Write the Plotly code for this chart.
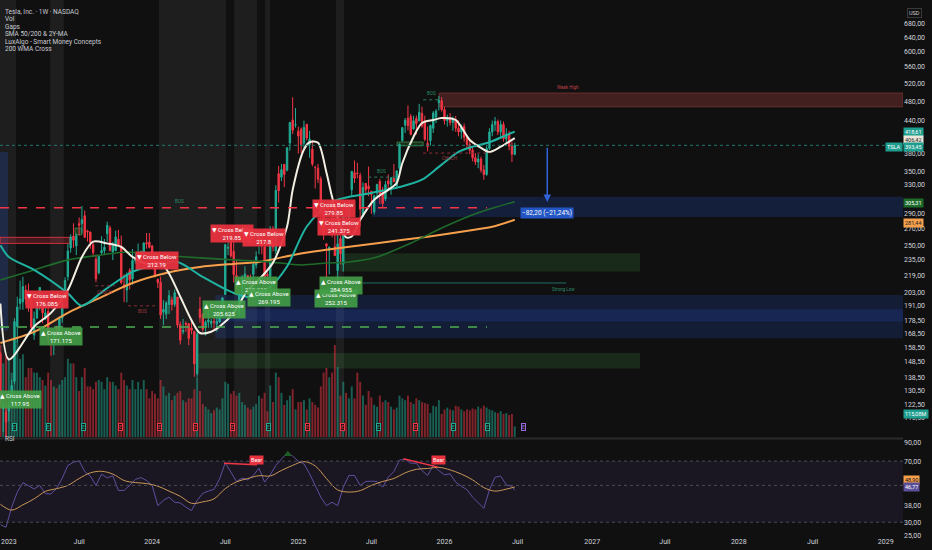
import numpy as np
import pandas as pd
import plotly.graph_objects as go

# weekly TSLA candles, first bar = week of 2022-12-19, last = week of 2026-06-22
opens = [154.0, 120.0, 118.5, 119.0, 125.7, 135.9, 173.9, 193.0, 194.4, 205.0,
         202.0, 198.5, 167.5, 180.8, 194.4, 199.9, 179.9, 186.3, 164.7, 163.2,
         173.7, 167.7, 180.7, 200.1, 217.8, 247.9, 261.5, 250.1, 276.5, 276.5,
         286.6, 267.5, 266.3, 251.5, 235.7, 221.6, 242.6, 245.0, 264.3, 271.2,
         243.4, 244.8, 257.8, 250.0, 210.0, 205.0, 224.0, 215.6, 234.0, 236.9,
         235.8, 242.7, 253.8, 254.5, 250.1, 236.1, 215.1, 212.3, 185.6, 184.0,
         192.1, 196.1, 192.3, 198.7, 175.5, 170.0, 176.5, 176.2, 172.9, 170.2,
         140.6, 188.4, 183.8, 174.5, 177.6, 176.4, 178.1, 176.1, 177.6, 185.0,
         201.0, 247.7, 255.0, 244.2, 218.9, 185.2, 197.0, 217.1, 218.8, 215.3,
         220.1, 229.5, 254.1, 262.7, 249.0, 220.1, 218.3, 270.0, 244.6, 346.3,
         340.7, 361.0, 351.8, 397.6, 441.1, 431.0, 419.4, 423.2, 397.2, 432.6,
         394.8, 386.7, 356.2, 355.0, 338.1, 300.3, 252.4, 245.1, 283.6, 249.3,
         223.8, 258.4, 230.3, 289.0, 284.3, 322.0, 347.9, 347.4, 343.5, 286.0,
         331.3, 327.5, 319.9, 291.4, 317.7, 334.4, 318.5, 309.0, 335.0, 329.6,
         338.9, 328.2, 354.6, 402.0, 431.0, 444.4, 447.8, 423.5, 443.9, 439.0,
         454.5, 439.6, 397.1, 402.0, 425.0, 447.0, 477.0, 481.0, 462.0, 440.0,
         446.0, 436.0, 442.0, 425.0, 418.0, 428.0, 408.0, 395.0, 385.0, 372.0,
         365.0, 370.0, 352.0, 345.0, 388.0, 418.0, 432.0, 438.0, 418.0, 432.0,
         405.0, 414.0, 392.0, 378.0]
highs = [155.3, 124.5, 125.9, 124.1, 137.0, 180.7, 199.0, 214.0, 217.7, 209.7,
         211.2, 198.6, 186.2, 199.3, 207.8, 202.7, 191.8, 189.7, 165.7, 170.8,
         174.6, 182.0, 193.9, 217.3, 252.4, 263.6, 277.0, 264.5, 284.3, 299.3,
         293.3, 269.1, 266.5, 253.7, 240.7, 239.2, 261.2, 258.0, 279.0, 273.9,
         254.8, 268.0, 268.9, 262.0, 220.1, 222.0, 226.3, 246.7, 243.6, 252.8,
         245.0, 254.0, 265.1, 265.1, 251.3, 238.9, 216.0, 217.8, 196.0, 195.0,
         205.0, 199.0, 205.6, 198.7, 178.0, 180.0, 178.0, 176.8, 179.0, 170.7,
         171.0, 198.9, 184.9, 179.0, 186.9, 180.0, 182.6, 185.0, 188.8, 198.7,
         252.4, 271.0, 266.0, 255.8, 234.5, 203.9, 219.5, 228.2, 219.1, 219.9,
         232.0, 244.0, 264.9, 264.0, 251.0, 222.0, 273.5, 273.5, 328.7, 358.6,
         361.9, 362.0, 389.5, 436.3, 488.5, 465.3, 428.0, 426.4, 439.7, 433.2,
         420.0, 403.0, 359.0, 362.0, 342.0, 303.0, 253.4, 249.5, 291.9, 290.9,
         274.7, 261.8, 286.9, 294.9, 307.0, 350.0, 367.7, 363.8, 348.0, 333.0,
         332.1, 357.5, 320.0, 315.0, 330.9, 338.0, 326.0, 335.2, 345.0, 340.8,
         362.0, 351.0, 396.7, 426.0, 445.0, 470.8, 453.0, 449.8, 450.0, 474.1,
         468.4, 449.7, 428.0, 432.0, 458.9, 463.0, 491.5, 489.0, 468.0, 452.0,
         455.0, 448.0, 449.0, 440.0, 432.0, 434.0, 412.0, 402.0, 392.0, 380.0,
         378.0, 374.0, 360.0, 392.0, 425.0, 440.0, 447.0, 442.0, 440.0, 438.0,
         425.0, 420.0, 400.0, 398.0]
lows = [121.0, 108.2, 101.8, 113.5, 124.3, 134.3, 162.0, 187.6, 187.6, 191.8,
        186.0, 168.4, 163.9, 180.0, 187.2, 176.6, 179.0, 160.2, 152.4, 153.0,
        164.3, 164.0, 177.0, 196.5, 214.0, 242.7, 248.0, 240.0, 262.0, 265.0,
        259.3, 255.0, 247.0, 238.0, 212.4, 220.0, 240.0, 240.0, 255.0, 244.0,
        234.6, 244.5, 250.0, 210.4, 194.1, 194.0, 205.7, 210.0, 231.0, 231.0,
        231.0, 235.0, 247.0, 247.4, 230.0, 217.0, 207.0, 180.1, 175.0, 180.0,
        184.0, 187.0, 190.0, 173.0, 160.5, 168.0, 170.0, 160.0, 168.0, 138.8,
        138.8, 177.0, 170.0, 167.0, 173.0, 173.0, 171.0, 170.0, 177.0, 182.0,
        201.0, 240.0, 237.0, 212.1, 205.0, 182.0, 195.0, 207.0, 201.0, 209.0,
        214.0, 226.0, 241.0, 240.8, 210.0, 214.0, 212.0, 244.0, 241.0, 304.0,
        335.0, 326.0, 350.0, 384.0, 414.0, 426.0, 379.0, 380.0, 388.0, 402.0,
        372.0, 358.0, 324.0, 332.0, 273.0, 257.0, 217.0, 220.0, 260.0, 239.0,
        214.3, 230.0, 222.8, 270.0, 271.0, 313.0, 332.0, 339.0, 273.2, 285.0,
        316.0, 313.0, 289.0, 288.0, 309.0, 302.0, 297.8, 306.0, 322.0, 315.0,
        333.0, 325.0, 348.0, 400.0, 416.0, 421.0, 411.5, 422.0, 413.0, 439.0,
        426.0, 401.0, 382.8, 393.0, 416.0, 435.0, 460.0, 458.0, 432.0, 428.0,
        430.0, 420.0, 418.0, 410.0, 405.0, 400.0, 388.0, 378.0, 366.0, 360.0,
        355.0, 348.0, 337.0, 343.0, 385.0, 410.0, 420.0, 412.0, 408.0, 400.0,
        398.0, 385.0, 365.0, 376.0]
closes = [123.2, 123.2, 113.1, 122.4, 133.4, 177.9, 190.0, 196.9, 208.3, 196.9,
          197.8, 173.4, 180.1, 190.4, 207.5, 185.0, 185.0, 165.1, 164.3, 170.1,
          168.0, 180.1, 193.2, 214.0, 244.4, 260.5, 256.6, 261.8, 274.4, 281.4,
          260.0, 266.4, 253.9, 242.7, 215.5, 238.6, 245.0, 248.5, 274.4, 244.9,
          250.2, 260.5, 251.1, 212.0, 207.3, 220.0, 214.7, 234.3, 235.5, 238.8,
          243.8, 253.5, 252.5, 248.5, 237.5, 218.9, 212.2, 183.3, 187.9, 193.6,
          200.0, 192.0, 202.6, 175.3, 163.6, 170.8, 175.8, 164.9, 171.1, 147.1,
          168.3, 181.2, 171.9, 177.5, 179.2, 178.1, 177.5, 178.0, 183.0, 197.9,
          251.5, 248.2, 239.2, 219.8, 207.7, 200.0, 216.1, 220.3, 214.1, 210.7,
          230.3, 238.3, 260.5, 250.1, 217.8, 218.9, 269.2, 249.0, 321.2, 320.7,
          352.6, 345.2, 389.2, 436.2, 421.1, 431.7, 410.4, 394.7, 426.5, 406.6,
          404.6, 361.6, 355.8, 337.8, 293.0, 262.7, 250.0, 248.7, 263.6, 239.4,
          252.3, 241.4, 285.0, 287.2, 298.3, 350.0, 339.3, 346.5, 295.1, 325.3,
          322.2, 323.6, 315.4, 313.5, 329.7, 316.1, 302.6, 329.7, 330.6, 340.0,
          333.9, 350.8, 395.9, 426.1, 440.4, 429.8, 413.5, 439.3, 433.7, 456.6,
          429.5, 404.4, 391.1, 430.2, 455.0, 459.0, 481.2, 462.0, 440.0, 446.0,
          436.0, 442.0, 425.0, 418.0, 428.0, 408.0, 395.0, 385.0, 372.0, 365.0,
          370.0, 352.0, 345.0, 388.0, 418.0, 432.0, 438.0, 418.0, 432.0, 405.0,
          414.0, 392.0, 378.0, 393.45]
volumes = [1000, 800, 900, 850, 700, 1000, 1050, 850, 900, 650,
           750, 750, 700, 700, 650, 620, 560, 700, 620, 550,
           530, 570, 620, 650, 850, 800, 800, 650, 500, 650,
           750, 550, 550, 520, 600, 620, 600, 520, 650, 600,
           600, 560, 520, 700, 620, 560, 520, 620, 520, 600,
           520, 620, 520, 420, 500, 470, 420, 620, 550, 450,
           480, 400, 450, 480, 500, 400, 380, 420, 420, 520,
           650, 500, 360, 330, 300, 260, 290, 320, 300, 420,
           600, 580, 470, 500, 450, 480, 380, 350, 320, 300,
           330, 360, 450, 420, 480, 280, 560, 380, 700, 650,
           480, 350, 400, 450, 520, 300, 380, 380, 400, 300,
           420, 380, 350, 320, 550, 700, 750, 650, 700, 1000,
           760, 450, 600, 480, 420, 550, 420, 700, 600, 450,
           350, 500, 430, 350, 330, 450, 380, 400, 380, 330,
           300, 320, 450, 420, 400, 450, 380, 360, 420, 400,
           380, 370, 360, 260, 340, 330, 400, 250, 300, 320,
           300, 290, 340, 330, 300, 280, 300, 290, 310, 300,
           330, 310, 340, 320, 300, 290, 270, 260, 280, 250,
           260, 240, 250, 115]

# moving averages, week index counted from 2023-01-02
sma_fast_wk = [-2, 1, 10, 16, 22, 27, 31, 36, 41, 45, 51, 55, 58, 62, 66, 69, 73, 76, 81, 86,
               90, 95, 100, 102, 106, 108, 111, 114, 116, 119, 121, 123, 126, 131, 136, 139,
               141, 145, 148, 152, 155, 160, 165, 169, 172, 176, 181]
sma_fast = [193, 150, 174, 185, 205, 238, 255, 253, 249, 238, 230, 232, 221, 199, 179, 169, 170,
            174, 185, 205, 215, 232, 273, 322, 386, 399, 398, 348, 312, 273, 260, 261, 281, 308,
            322, 332, 363, 409, 435, 441, 445, 441, 403, 389, 382, 391, 406.4]
sma_slow_wk = [-2, 1, 10, 22, 27, 35, 45, 54, 61, 70, 81, 88, 94, 100, 107, 116, 130, 140, 148,
               154, 161, 166, 172, 178, 181]
sma_slow = [251, 238, 224.5, 202, 191, 205, 222.6, 229.6, 232.7, 217.5, 202.4, 198.7, 208, 228,
            273, 305, 317.5, 326, 337, 357, 382, 391, 399, 412, 418.6]
ma_2y_wk = [-2, 10, 22, 34, 43, 54, 69, 81, 93, 105, 114, 122, 132, 144, 156, 168, 181]
ma_2y = [214.6, 224.5, 234.9, 240.2, 243.4, 240.2, 237, 234.9, 233, 229.6, 231.6, 232.7, 237.9,
         253.2, 272.6, 290.3, 305.3]
wma200_wk = [-2, 10, 22, 34, 45, 57, 69, 81, 90, 104, 114, 132, 150, 162, 173, 181]
wma200 = [161.6, 169.8, 185, 198.7, 211.7, 221.4, 227.5, 230.7, 232.7, 241.3, 245.8, 253.2,
          260.8, 266.7, 272.6, 281.4]

# RSI every second week from index -2, plus the last bar
rsi = [29, 28, 37, 45.5, 52, 50, 47.6, 50, 44.6, 44.4, 48, 55.3, 65.9, 69, 70.3, 60.6, 56.9, 50,
       58.4, 55.5, 57.1, 46.6, 46.6, 50, 54.3, 55.7, 53.5, 50, 37.8, 40.6, 42.5, 39.6, 39.2, 37,
       35.3, 40.6, 44.8, 46.2, 47.4, 54.8, 68.4, 60.1, 52.8, 55.3, 54, 57.4, 63.5, 52.3, 57.9,
       65.9, 72.3, 78.6, 75, 70, 67.4, 58.7, 50, 42.5, 37.8, 39.6, 37.8, 48.8, 57.4, 57.4, 50,
       52.8, 53, 52.8, 48.8, 56, 60.6, 71, 71.7, 68, 68, 61.4, 57.4, 65.9, 61.4, 57.9, 58.7,
       52.3, 49.4, 47.1, 42.5, 39.2, 36.4, 47.1, 56, 56.9, 50.4, 49.4, 46.8]
rsi_ma_wk = [-2, 2, 6, 10, 14, 18, 22, 26, 30, 34, 38, 42, 46, 50, 54, 58, 62, 66, 70, 74, 78, 82,
             86, 90, 94, 98, 102, 106, 110, 114, 118, 122, 126, 130, 134, 138, 142, 146, 150, 154,
             158, 162, 166, 170, 174, 178, 181]
rsi_ma = [38.5, 35.5, 38.2, 41.5, 46, 47.8, 50, 55, 59.5, 60.8, 58.5, 53.5, 52, 51.3, 49.5, 46.2,
          43, 39, 39.8, 41.5, 47.8, 52.5, 55, 57.2, 57, 61.5, 66, 69.5, 65.5, 55, 47, 45.6, 46.5,
          50, 52.8, 55, 59.5, 62.5, 63.2, 64.2, 62, 58.5, 54, 48.5, 46.2, 47.5, 48.9]

x_tick_dates = ['2023-01-09', '2023-07-03', '2024-01-01', '2024-07-01', '2024-12-30', '2025-06-30',
                '2025-12-29', '2026-06-29', '2027-01-01', '2027-07-01', '2028-01-01', '2028-07-03',
                '2029-01-01']
x_tick_text = ['2023', 'Juil', '2024', 'Juil', '2025', 'Juil', '2026', 'Juil', '2027', 'Juil',
               '2028', 'Juil', '2029']
price_ticks = [680, 640, 600, 560, 520, 480, 440, 380, 350, 330, 290, 270, 250, 235, 219, 203,
               191, 178.5, 168.5, 158.5, 148.5, 138.5, 130.5, 122.5, 115.5]
rsi_ticks = [90, 70, 38, 30, 25]

BG = '#101010'
UP = '#22ab94'
DOWN = '#f23645'
X0, X1 = '2022-12-18', '2029-02-13'
MAIN_BOT = 1 - 437 / 536
RSI_TOP = 1 - 440 / 536
BASE = pd.Timestamp('2023-01-02')


def wk(i):
    return BASE + pd.Timedelta(weeks=i)


def comma(v):
    return f'{v:.2f}'.replace('.', ',')


dates = pd.date_range('2022-12-19', periods=len(closes), freq='W-MON')
vol_colors = ['rgba(34,171,148,0.5)' if c >= o else 'rgba(242,54,69,0.5)'
              for o, c in zip(opens, closes)]

fig = go.Figure()

fig.add_trace(go.Bar(x=dates, y=volumes, marker_color=vol_colors, marker_line_width=0,
                     width=7 * 86400000 * 0.7, xaxis='x', yaxis='y'))

fig.add_trace(go.Candlestick(
    x=dates, open=opens, high=highs, low=lows, close=closes, xaxis='x', yaxis='y3',
    increasing=dict(line=dict(color=UP, width=1), fillcolor=UP),
    decreasing=dict(line=dict(color=DOWN, width=1), fillcolor=DOWN),
    whiskerwidth=0))

for wks, vals, color, width in [(wma200_wk, wma200, '#f6a04d', 2),
                                (ma_2y_wk, ma_2y, '#1f6b2b', 1.6),
                                (sma_slow_wk, sma_slow, '#1fb3a2', 2),
                                (sma_fast_wk, sma_fast, '#f2eee2', 2)]:
    fig.add_trace(go.Scatter(x=[wk(i) for i in wks], y=vals, mode='lines', xaxis='x', yaxis='y3',
                             line=dict(color=color, width=width, shape='spline', smoothing=0.8)))

# RSI pane
rsi_dates = [wk(i) for i in range(-2, 181, 2)] + [wk(181)]
fig.add_trace(go.Scatter(x=rsi_dates, y=rsi, mode='lines', xaxis='x2', yaxis='y2',
                         line=dict(color='#5f4fa0', width=1)))
fig.add_trace(go.Scatter(x=[wk(i) for i in rsi_ma_wk], y=rsi_ma, mode='lines', xaxis='x2',
                         yaxis='y2', line=dict(color='#c99656', width=1, shape='spline')))
fig.add_trace(go.Scatter(x=['2024-12-04'], y=[77], mode='markers', xaxis='x2', yaxis='y2',
                         marker=dict(symbol='triangle-up', size=7, color='#1d5e26')))

shapes = []
# lighter vertical session bands
for a, b in [('2022-12-18', '2023-01-27'), ('2023-04-22', '2023-05-26'),
             ('2024-01-18', '2024-07-03'), ('2024-07-23', '2024-09-18'),
             ('2024-10-08', '2024-10-21'), ('2025-04-03', '2025-04-23')]:
    shapes.append(dict(type='rect', xref='x', yref='paper', x0=a, x1=b, y0=MAIN_BOT, y1=1,
                       fillcolor='rgba(255,255,255,0.06)', line_width=0, layer='below'))


def zone(x0, x1, y0, y1, fill, line=None):
    shapes.append(dict(type='rect', xref='x', yref='y3', x0=x0, x1=x1, y0=y0, y1=y1,
                       fillcolor=fill, line=dict(width=1 if line else 0, color=line or fill),
                       layer='below'))


zone('2025-12-16', X1, 468, 498, 'rgba(150,60,60,0.38)', 'rgba(120,50,50,0.8)')
zone('2025-07-02', X1, 285, 312, 'rgba(41,98,255,0.18)')
zone('2024-06-06', X1, 165, 200.6, 'rgba(41,98,255,0.16)')
zone('2024-06-06', X1, 178, 188, 'rgba(41,98,255,0.14)')
zone(X0, '2023-01-07', 171, 382, 'rgba(41,98,255,0.18)')
zone('2025-04-13', '2027-04-30', 223, 242, 'rgba(76,175,80,0.16)')
zone('2024-04-22', '2027-04-30', 144, 154.5, 'rgba(76,175,80,0.16)')
zone(X0, '2023-06-10', 253, 260, 'rgba(242,54,69,0.22)', 'rgba(242,54,69,0.8)')
zone('2023-06-23', '2023-07-10', 263, 271, 'rgba(76,175,80,0.25)', 'rgba(76,175,80,0.6)')
zone('2025-09-02', '2025-11-06', 392.6, 399.4, 'rgba(76,175,80,0.2)', 'rgba(76,175,80,0.6)')


def hline(x0, x1, y, color, dash, width=1, yref='y3'):
    shapes.append(dict(type='line', xref='x', yref=yref, x0=x0, x1=x1, y0=y, y1=y,
                       line=dict(color=color, width=width, dash=dash)))


hline(X0, '2026-04-14', 297, '#f23645', 'dash', 1.5)
hline(X0, '2026-04-14', 173.6, '#4caf50', 'dash', 1.5)
hline('2025-04-07', '2026-10-28', 211.7, '#1f6e66', 'solid', 1)
hline(X0, X1, 393.45, '#1f7a6e', 'dot', 1)
hline('2025-06-22', '2025-08-28', 341, '#2e7d5b', 'dot')
hline('2025-11-06', '2025-12-16', 483, '#2e7d5b', 'dot')
hline('2025-11-06', '2026-04-22', 380, '#8a2e35', 'dot')
hline('2023-08-12', '2023-09-30', 209, '#8a2e35', 'dot')
hline('2023-11-02', '2024-01-13', 191, '#8a2e35', 'dot')

# RSI band and levels
shapes.append(dict(type='rect', xref='paper', yref='y2', x0=0, x1=1, y0=30, y1=70,
                   fillcolor='rgba(126,87,194,0.1)', line_width=0, layer='below'))
for lvl in [70, 50, 30]:
    shapes.append(dict(type='line', xref='paper', yref='y2', x0=0, x1=1, y0=lvl, y1=lvl,
                       line=dict(color='#4a4a55', width=1, dash='dot')))
for a, va, b, vb in [('2024-06-28', 68, '2024-09-18', 66.6), ('2025-09-18', 72.3, '2025-12-13', 64.4)]:
    shapes.append(dict(type='line', xref='x2', yref='y2', x0=a, x1=b, y0=va, y1=vb,
                       line=dict(color='#f23645', width=1.5)))
# pane separator
shapes.append(dict(type='line', xref='paper', yref='paper', x0=0, x1=1, y0=1 - 438.5 / 536,
                   y1=1 - 438.5 / 536, line=dict(color='#2a2a2a', width=2)))

ann = []
LOG = np.log10


def label(d, price, text, bg, size=6, color='white'):
    ann.append(dict(x=d, y=LOG(price), xref='x', yref='y3', text=text, showarrow=False,
                    bgcolor=bg, font=dict(size=size, color=color), borderpad=1, align='center'))


for d, p, v in [('2023-04-14', 196.2, '176.085'), ('2024-01-13', 233.8, '212.19'),
                ('2024-07-18', 265.1, '219.85'), ('2024-10-06', 259.6, '217.8'),
                ('2025-03-29', 295.8, '279.85'), ('2025-04-11', 272.6, '241.375')]:
    label(d, p, '▼ Cross Below<br>' + v, 'rgba(232,50,62,0.95)')
for d, p, v in [('2023-02-06', 125, '117.95'), ('2023-05-19', 166, '171.175'),
                ('2024-06-28', 187.5, '205.625'), ('2024-09-16', 209, '258.255'),
                ('2024-10-18', 198.7, '269.195'), ('2025-04-03', 197, '252.315'),
                ('2025-04-16', 209, '284.955')]:
    label(d, p, '▲ Cross Above<br>' + v, 'rgba(67,160,71,0.9)')


def tiny(d, price, text, color):
    ann.append(dict(x=d, y=LOG(price), xref='x', yref='y3', text=text, showarrow=False,
                    font=dict(size=4.5, color=color)))


tiny('2025-07-25', 350, 'BOS', '#2e8b6a')
tiny('2025-11-26', 496, 'BOS', '#2e8b6a')
tiny('2026-01-10', 371, 'CHoCH', '#a33a42')
tiny('2024-03-10', 305, 'BOS', '#2e8b6a')
tiny('2023-09-05', 203, 'CHoCH', '#a33a42')
tiny('2023-12-08', 186, 'BOS', '#a33a42')
tiny('2026-11-02', 510, 'Weak High', '#c0404a')
tiny('2026-10-21', 206, 'Strong Low', '#2e8b6a')

# projection arrow
ann.append(dict(x='2026-09-11', y=LOG(305), ax='2026-09-11', ay=LOG(392), xref='x', yref='y3',
                axref='x', ayref='y3', text='', showarrow=True, arrowhead=2, arrowsize=1,
                arrowwidth=1.5, arrowcolor='#2f63d8'))
label('2026-09-11', 290, '−82,20 (−21,24%)', '#2356c4', size=6.5)

# earnings markers
for d, c in [('2023-01-24', UP), ('2023-04-17', UP), ('2023-07-15', UP), ('2023-10-15', DOWN),
             ('2024-01-18', DOWN), ('2024-04-19', DOWN), ('2024-07-18', DOWN), ('2024-10-16', UP),
             ('2025-01-23', DOWN), ('2025-04-18', DOWN), ('2025-07-17', UP), ('2025-10-17', DOWN),
             ('2026-01-20', UP), ('2026-04-14', UP), ('2026-07-13', '#9c6ade')]:
    ann.append(dict(x=d, y=1 - 431 / 536, xref='x', yref='paper', text='E', showarrow=False,
                    font=dict(size=5, color=c), bgcolor='#141414', bordercolor=c,
                    borderwidth=1, borderpad=0))

# legend text
for k, t in enumerate(['Tesla, Inc. · 1W · NASDAQ', 'Vol', 'Gaps', 'SMA 50/200 & 2Y-MA',
                       'LuxAlgo - Smart Money Concepts', '200 WMA Cross']):
    ann.append(dict(x=0.003, y=1 - (6 + 7.4 * k) / 536, xref='paper', yref='paper', text=t,
                    showarrow=False, xanchor='left', font=dict(size=6.5, color='#c9cbd2')))
ann.append(dict(x=0.003, y=1 - 445 / 536, xref='paper', yref='paper', text='RSI',
                showarrow=False, xanchor='left', font=dict(size=6.5, color='#c9cbd2')))
ann.append(dict(x=1.004, y=1 - 8 / 536, xref='paper', yref='paper', text='USD', showarrow=False,
                xanchor='left', font=dict(size=5.5, color='#c9cbd2'), bordercolor='#3a3a3a',
                borderwidth=1, borderpad=1))

# price-scale value tags
for price, text, bg, fg in [(417, '418,61', '#1e9e8e', 'white'), (403, '406,42', '#e9e6da', '#222'),
                            (390, '393,45', '#1e9e8e', 'white'), (303.7, '305,31', '#1d6b2b', 'white'),
                            (277.6, '281,44', '#f6a04d', '#222'), (117.1, '115,08M', '#1e9e8e', 'white')]:
    ann.append(dict(x=1, y=LOG(price), xref='paper', yref='y3', text=text, showarrow=False,
                    xanchor='left', bgcolor=bg, font=dict(size=5.5, color=fg), borderpad=1))
ann.append(dict(x=1, y=LOG(390), xref='paper', yref='y3', text='TSLA', showarrow=False,
                xanchor='right', bgcolor='#1e9e8e', font=dict(size=5.5, color='white'), borderpad=1))
for val, text, bg in [(53.9, '48,90', '#f6a04d'), (49.0, '46,77', '#5b4f99')]:
    ann.append(dict(x=1, y=LOG(val), xref='paper', yref='y2', text=text, showarrow=False,
                    xanchor='left', bgcolor=bg, font=dict(size=5.5, color='#111' if bg == '#f6a04d' else 'white'),
                    borderpad=1))
for d, v in [('2024-09-18', 70.7), ('2025-12-13', 70.7)]:
    ann.append(dict(x=d, y=LOG(v), xref='x2', yref='y2', text='Bear', showarrow=False,
                    bgcolor='#e8323e', font=dict(size=5.5, color='white'), borderpad=1))

axis_font = dict(size=7, color='#d1d4dc')
fig.update_layout(
    width=932, height=550, margin=dict(l=0, r=29, t=0, b=14),
    paper_bgcolor=BG, plot_bgcolor=BG, showlegend=False,
    font=dict(family='Roboto, DejaVu Sans', size=7, color='#d1d4dc'),
    xaxis=dict(domain=[0, 1], anchor='y', type='date', range=[X0, X1], showticklabels=False,
               showgrid=False, zeroline=False, rangeslider=dict(visible=False)),
    yaxis=dict(domain=[MAIN_BOT, 1], range=[0, 4750], visible=False),
    yaxis3=dict(overlaying='y', anchor='x', side='right', type='log',
                range=[LOG(105.8), LOG(757)], tickvals=price_ticks,
                ticktext=[comma(v) for v in price_ticks], showgrid=False, zeroline=False,
                ticks='', tickfont=axis_font, automargin=False),
    xaxis2=dict(domain=[0, 1], anchor='y2', type='date', range=[X0, X1], matches='x',
                tickvals=x_tick_dates, ticktext=x_tick_text, showgrid=False, zeroline=False,
                ticks='', tickfont=axis_font, automargin=False, ticklabeloverflow='allow'),
    yaxis2=dict(domain=[0, RSI_TOP], anchor='x2', side='right', type='log',
                range=[LOG(24.8), LOG(93.8)], tickvals=rsi_ticks,
                ticktext=[comma(v) for v in rsi_ticks], showgrid=False, zeroline=False,
                ticks='', tickfont=axis_font, automargin=False, ticklabeloverflow='allow'),
    shapes=shapes, annotations=ann,
)

# drop the browser's default body margin so the chart fills the window from the corner
fig.write_html('out.html', config={'displayModeBar': False},
               post_script="document.body.style.margin='0';"
                           "document.body.style.background='#101010';")
